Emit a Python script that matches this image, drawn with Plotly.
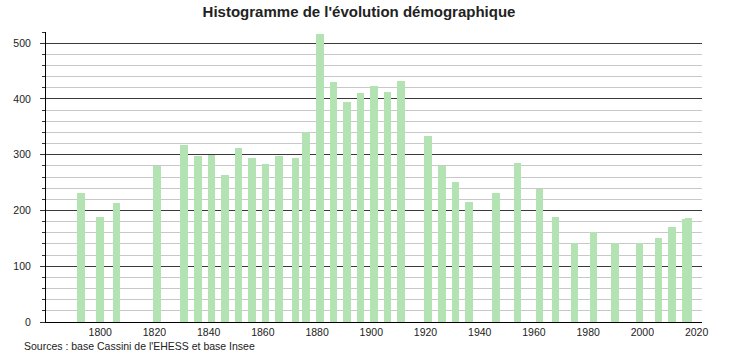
import plotly.graph_objects as go

years = [1793, 1800, 1806, 1821, 1831, 1836, 1841, 1846, 1851, 1856, 1861, 1866,
         1872, 1876, 1881, 1886, 1891, 1896, 1901, 1906, 1911, 1921, 1926, 1931,
         1936, 1946, 1954, 1962, 1968, 1975, 1982, 1990, 1999, 2006, 2011, 2016, 2017]
population = [231, 188, 213, 280, 317, 297, 300, 263, 312, 294, 283, 297,
              294, 340, 517, 430, 394, 410, 423, 412, 432, 333, 280, 251,
              215, 231, 285, 239, 188, 141, 162, 141, 141, 150, 170, 184, 186]

title_text = "Histogramme de l'évolution démographique"
source_text = "Sources : base Cassini de l'EHESS et base Insee"
x_ticks = [1800, 1820, 1840, 1860, 1880, 1900, 1920, 1940, 1960, 1980, 2000, 2020]
y_ticks = [0, 100, 200, 300, 400, 500]

fig = go.Figure()
fig.add_trace(go.Bar(
    x=years, y=population, width=2.8,
    marker=dict(color="#b3e3b3", line=dict(width=0)),
    hoverinfo="x+y",
))

font_family = "Liberation Sans, Arial, sans-serif"

fig.update_layout(
    width=738, height=353,
    margin=dict(l=46, r=36, t=32, b=31),
    paper_bgcolor="white", plot_bgcolor="white",
    showlegend=False,
    bargap=0,
    font=dict(family=font_family, size=10.5, color="#222"),
    title=dict(text="<b>" + title_text + "</b>", x=359 / 738, xref="container",
               xanchor="center", y=1 - 11.5 / 353, yref="container", yanchor="middle",
               font=dict(family=font_family, size=15, color="#222")),
    xaxis=dict(range=[1780, 2022], tickvals=x_ticks, ticks="", showgrid=False,
               showline=True, linecolor="black", linewidth=1, zeroline=False,
               tickfont=dict(size=10.5, color="#222")),
    yaxis=dict(range=[0, 520], tickvals=y_ticks, ticks="outside", ticklen=5,
               tickcolor="#333", showline=True, linecolor="black", linewidth=1,
               gridcolor="#3a3a3a", gridwidth=1, zeroline=False,
               ticklabelstandoff=7,
               tickfont=dict(size=10.5, color="#222"),
               minor=dict(dtick=20, tick0=0, showgrid=True, gridcolor="#c8c8c8",
                          gridwidth=1, ticks="outside", ticklen=3, tickcolor="#333")),
    annotations=[dict(text=source_text, xref="paper", yref="paper",
                      x=(22 - 46) / 656, y=-(346 - 322) / 290, xanchor="left",
                      yanchor="middle", showarrow=False,
                      font=dict(family=font_family, size=10.5, color="#222"))],
)

fig.write_html("out.html")
